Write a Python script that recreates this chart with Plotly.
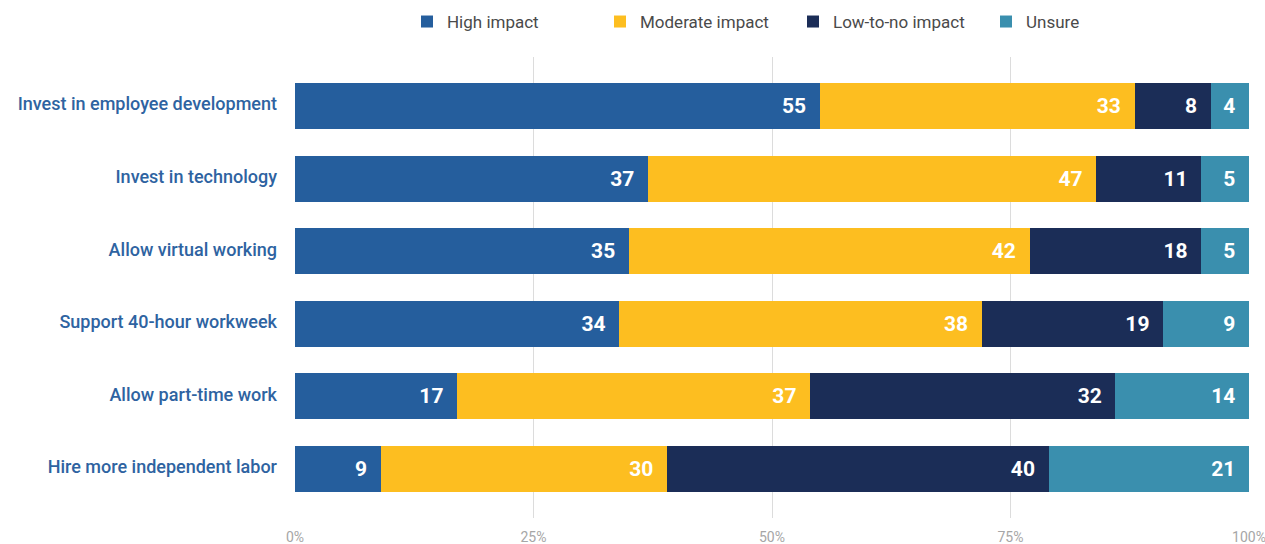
import plotly.graph_objects as go

categories = [
    "Invest in employee development",
    "Invest in technology",
    "Allow virtual working",
    "Support 40-hour workweek",
    "Allow part-time work",
    "Hire more independent labor",
]
high_impact = [55, 37, 35, 34, 17, 9]
moderate_impact = [33, 47, 42, 38, 37, 30]
low_to_no_impact = [8, 11, 18, 19, 32, 40]
unsure = [4, 5, 5, 9, 14, 21]

series = [
    ("High impact", high_impact, "#255E9D"),
    ("Moderate impact", moderate_impact, "#FDBE20"),
    ("Low-to-no impact", low_to_no_impact, "#1B2D57"),
    ("Unsure", unsure, "#3A8FAE"),
]

tick_vals = [0, 25, 50, 75, 100]
tick_text = ["0%", "25%", "50%", "75%", "100%"]

font_family = "Roboto, 'Open Sans', sans-serif"

fig = go.Figure()
for name, vals, color in series:
    fig.add_trace(go.Bar(
        name=name,
        y=categories,
        x=vals,
        orientation="h",
        marker=dict(color=color, line=dict(width=0)),
        text=[f"{v}\u2002" for v in vals],
        textposition="inside",
        insidetextanchor="end",
        textangle=0,
        insidetextfont=dict(family=font_family, size=21, color="white", weight="bold"),
        hoverinfo="x+y+name",
    ))

fig.update_layout(
    barmode="stack",
    bargap=0.366,
    width=1265,
    height=544,
    margin=dict(l=295, r=16, t=57, b=26, autoexpand=False),
    paper_bgcolor="white",
    plot_bgcolor="white",
    font=dict(family=font_family),
    uniformtext=dict(mode="show", minsize=10),
    legend=dict(
        orientation="h",
        x=0.522,
        xanchor="center",
        y=1.076,
        yanchor="middle",
        font=dict(size=17, color="#4A4A4A"),
        traceorder="normal",
        itemwidth=30,
        entrywidth=148,
        entrywidthmode="pixels",
    ),
    xaxis=dict(
        range=[0, 100],
        tickvals=tick_vals,
        ticktext=tick_text,
        showgrid=True,
        gridcolor="#DCDCDC",
        gridwidth=1,
        zeroline=False,
        showline=False,
        ticks="",
        tickfont=dict(size=14, color="#A6A6A6"),
        ticklabelstandoff=9,
        ticklabeloverflow="allow",
        fixedrange=True,
    ),
    yaxis=dict(
        categoryorder="array",
        categoryarray=categories,
        autorange=False,
        range=[5.675, -0.675],
        showgrid=False,
        zeroline=False,
        showline=False,
        ticks="",
        tickfont=dict(size=18, color="#2E63A1", weight=500),
        ticklabelstandoff=17,
        ticklabelshift=2,
        fixedrange=True,
    ),
)

fig.write_html("out.html")
